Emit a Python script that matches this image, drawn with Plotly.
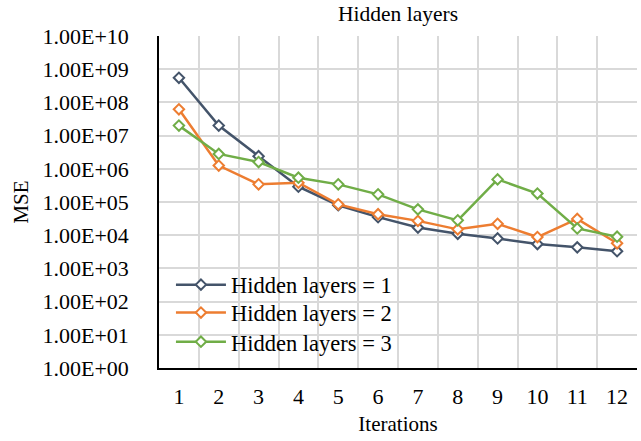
import plotly.graph_objects as go

iterations = [str(i) for i in range(1, 13)]
mse_layers1 = [5.5e8, 2.0e7, 2.4e6, 2.9e5, 8.0e4, 3.5e4, 1.7e4, 1.1e4, 8.0e3, 5.4e3, 4.3e3, 3.3e3]
mse_layers2 = [6.2e7, 1.25e6, 3.4e5, 3.8e5, 8.5e4, 4.3e4, 2.7e4, 1.5e4, 2.2e4, 8.8e3, 3.1e4, 5.7e3]
mse_layers3 = [2.0e7, 2.8e6, 1.6e6, 5.4e5, 3.4e5, 1.7e5, 6.0e4, 2.8e4, 4.8e5, 1.8e5, 1.6e4, 9.0e3]
series_names = ["Hidden layers = 1", "Hidden layers = 2", "Hidden layers = 3"]
series_colors = ["#44546A", "#ED7D31", "#70AD47"]
ytick_vals = [10 ** k for k in range(0, 11)]
ytick_text = ["1.00E+%02d" % k for k in range(0, 11)]

FONT = "Liberation Serif"
TICK = dict(family=FONT, size=22, color="black")
LEG = dict(family=FONT, size=22.5, color="black")
TTL = dict(family=FONT, size=21, color="black")

legend_ids = ["legend", "legend2", "legend3"]
legend_rows = [0.25, 0.166, 0.078]

fig = go.Figure()
for name, vals, col, lid in zip(series_names, [mse_layers1, mse_layers2, mse_layers3], series_colors, legend_ids):
    fig.add_trace(go.Scatter(
        x=iterations, y=vals, name=name, mode="lines+markers", legend=lid,
        line=dict(color=col, width=2.5),
        marker=dict(symbol="diamond", size=8, color="white", line=dict(color=col, width=2)),
    ))

legend_common = dict(x=0.025, xanchor="left", yanchor="middle",
                     bgcolor="rgba(0,0,0,0)", font=LEG, itemwidth=50)
fig.update_layout(
    width=641, height=441,
    margin=dict(l=159, r=4, t=36, b=73),
    paper_bgcolor="white", plot_bgcolor="white",
    font=TICK,
    title=dict(text="Hidden layers", x=0.621, xanchor="center", y=0.97, yanchor="middle",
               font=dict(family=FONT, size=21.5, color="black")),
    showlegend=True,
    legend=dict(y=legend_rows[0], **legend_common),
    legend2=dict(y=legend_rows[1], **legend_common),
    legend3=dict(y=legend_rows[2], **legend_common),
)
fig.update_xaxes(
    type="category", tickson="boundaries",
    showgrid=True, gridcolor="#D9D9D9", gridwidth=1.5,
    showline=True, linecolor="black", linewidth=1.5,
    ticks="", ticklabelstandoff=8, tickfont=TICK,
    title=dict(text="Iterations", standoff=8, font=TTL),
    range=[-0.5, 11.5],
)
fig.update_yaxes(
    type="log", range=[0, 10],
    tickvals=ytick_vals, ticktext=ytick_text, tickfont=TICK,
    showgrid=True, gridcolor="#D9D9D9", gridwidth=1.5,
    showline=True, linecolor="black", linewidth=1.5,
    ticks="", ticklabelstandoff=24,
    title=dict(text="MSE", standoff=8, font=TTL),
    zeroline=False,
)

fig.write_html("out.html")
